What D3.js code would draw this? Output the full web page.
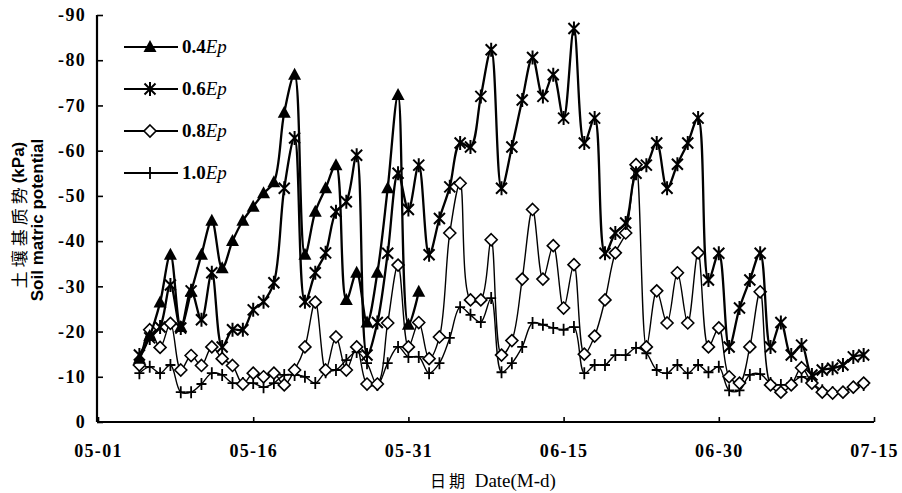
<!DOCTYPE html>
<html>
<head>
<meta charset="utf-8">
<script src="https://cdn.jsdelivr.net/npm/d3@7"></script>
<style>
  body { margin: 0; background: #fff; }
  svg { display: block; }
</style>
</head>
<body>
<div id="chart"></div>
<script>
// daily readings, 05-05 .. 07-14 (null = not measured)
const startDay = '05-05';
const dayCount = 71;

const ep04 = [-14, -19, -26.4, -37, -21, -28.8, -37, -44.5, -34, -40,
  -44.5, -47.6, -50.6, -53, -68.4, -76.8, -37, -46.5, -51.7, -56.8,
  -27, -33, -22, -33, -51.7, -72.3, -21.5, -28.8];

const ep06 = [-14.8, -18.6, -21, -30.3, -20.8, -29, -22.6, -33, -16.6, -20.4,
  -20.4, -24.8, -26.6, -30.8, -51.7, -62.8, -26.6, -33, -37.4, -46.5,
  -48.7, -59, -14.8, -22, -37.3, -55, -47, -56.8, -37, -45,
  -52, -61.7, -60.8, -72, -82.3, -51.7, -60.8, -71.2, -80.6, -72,
  -76.8, -67.2, -87, -61.7, -67.2, -37.3, -41.8, -44, -55, -56.8,
  -61.7, -51.7, -57, -61.7, -67.2, -31.4, -37.3, -16.6, -25.2, -31.4,
  -37.3, -16.6, -22, -14.8, -17, -10.4, -11.5, -11.9, -12.6, -14.4,
  -14.8];

const ep08 = [-12.6, -20.4, -16.5, -21.8, -11.5, -14.7, -12.5, -16.6, -14, -12.5,
  -8.4, -10.8, -10, -10.8, -8.2, -11.5, -16.6, -26.5, -11.5, -18.8,
  -11.5, -16.6, -8.4, -8.4, -21.9, -34.7, -16.6, -22, -14, -18.8,
  -41.8, -52.8, -27, -27, -40.3, -14.8, -18, -31.6, -47, -31.6,
  -39, -25.2, -34.8, -15, -19, -27, -37.4, -41.8, -56.9, -16.6,
  -29, -21.9, -33, -21.9, -37.4, -16.6, -20.8, -10, -8.6, -16.6,
  -28.8, -8.2, -6.6, -8.2, -12, -8.6, -6.6, -6.4, -6.6, -7.7,
  -8.6];

const ep10 = [-10.8, -12.2, -10.8, -12.6, -6.6, -6.6, -8.4, -10.8, -10.4, -8.6,
  -8.6, -8.6, -7.7, -8.6, -10.4, -10.4, -10, -8.6, -11, -11.5,
  -13.7, -15.5, -13, -8.2, -13, -16.6, -14.4, -14.4, -10.8, -13,
  -18.6, -25.4, -23.7, -22.1, -27.4, -11, -13, -16.6, -21.9, -21.5,
  -20.8, -20.4, -21, -10.8, -12.6, -12.6, -14.8, -14.8, -16.4, -15.2,
  -11.5, -10.8, -12.6, -10.8, -12.6, -11, -12.2, -7, -7, -10.4,
  -10.6, -8.6, -8.2, -8.6, -10, -8.6, -7, -6.6, -6.6, -7.7,
  -8.2];

const seriesNames = ['0.4', '0.6', '0.8', '1.0'];
const xTicks = ['05-01', '05-16', '05-31', '06-15', '06-30', '07-15'];
const yTicks = [0, -10, -20, -30, -40, -50, -60, -70, -80, -90];

const width = 902, height = 493;
const toDate = s => { const [m, d] = s.split('-').map(Number); return new Date(Date.UTC(2000, m - 1, d)); };
const days = d3.utcDay.range(toDate(startDay), d3.utcDay.offset(toDate(startDay), dayCount));

const svg = d3.select('#chart').append('svg')
  .attr('width', width).attr('height', height);

const x = d3.scaleUtc()
  .domain([toDate(xTicks[0]), toDate(xTicks[xTicks.length - 1])])
  .range([98, 874]);
const y = d3.scaleLinear().domain([0, -90]).range([422, 15]);

const series = [
  { name: seriesNames[0], values: ep04, mark: 'triangle', lw: 2.3 },
  { name: seriesNames[1], values: ep06, mark: 'star', lw: 2.3 },
  { name: seriesNames[2], values: ep08, mark: 'diamond', lw: 1.4 },
  { name: seriesNames[3], values: ep10, mark: 'plus', lw: 1.4 }
];

function drawMark(g, type) {
  if (type === 'triangle') {
    g.append('path').attr('d', 'M0,-7L6.5,5L-6.5,5Z').attr('fill', '#000');
  } else if (type === 'star') {
    g.append('path').attr('d', 'M-5.5,-5.5L5.5,5.5M-5.5,5.5L5.5,-5.5M0,-7L0,7')
      .attr('stroke', '#000').attr('stroke-width', 2).attr('fill', 'none');
  } else if (type === 'diamond') {
    g.append('path').attr('d', 'M0,-6L6,0L0,6L-6,0Z')
      .attr('fill', '#fff').attr('stroke', '#000').attr('stroke-width', 1.6);
  } else {
    g.append('path').attr('d', 'M-5,0L5,0M0,-6L0,6')
      .attr('stroke', '#000').attr('stroke-width', 1.8).attr('fill', 'none');
  }
}

const line = d3.line()
  .defined(d => d.v != null)
  .x(d => x(d.date))
  .y(d => y(d.v))
  .curve(d3.curveCatmullRom.alpha(0.5));

// draw in reverse so the thick series sit on top
series.slice().reverse().forEach(s => {
  const pts = s.values.map((v, i) => ({ date: days[i], v }));
  svg.append('path').datum(pts)
    .attr('d', line)
    .attr('fill', 'none').attr('stroke', '#000')
    .attr('stroke-width', s.lw).attr('stroke-linejoin', 'round');
  svg.append('g').selectAll('g')
    .data(pts.filter(d => d.v != null))
    .enter().append('g')
    .attr('transform', d => `translate(${x(d.date)},${y(d.v)})`)
    .each(function () { drawMark(d3.select(this), s.mark); });
});

// axes
const xAxis = d3.axisBottom(x)
  .tickValues(xTicks.map(toDate))
  .tickFormat(d3.utcFormat('%m-%d'))
  .tickSize(-5).tickSizeOuter(0).tickPadding(22);
const yAxis = d3.axisLeft(y)
  .tickValues(yTicks)
  .tickFormat(d => String(d))
  .tickSize(-6).tickSizeOuter(0).tickPadding(11);

const gx = svg.append('g').attr('transform', 'translate(0,422)').call(xAxis);
const gy = svg.append('g').attr('transform', 'translate(97,0)').call(yAxis);
[gx, gy].forEach(g => {
  g.select('.domain').attr('stroke-width', 2.2);
  g.selectAll('.tick line').attr('stroke-width', 1.6);
  g.selectAll('text')
    .style('font-family', '"Liberation Serif", serif')
    .style('font-weight', 'bold')
    .style('font-size', '18px')
    .style('letter-spacing', '1.3px')
    .attr('fill', '#000');
});
gx.select('.domain').attr('d', 'M97,0H874');
gy.select('.domain').attr('d', 'M0,422V15');

// axis titles
svg.append('text')
  .attr('x', 493).attr('y', 487)
  .attr('text-anchor', 'middle')
  .call(t => {
    t.append('tspan').text('日期 ')
      .style('font-family', '"Noto Sans CJK SC", sans-serif')
      .style('font-size', '16px').style('letter-spacing', '3px');
    t.append('tspan').text('Date(M-d)')
      .style('font-family', '"Liberation Serif", serif').style('font-size', '19px');
  });

svg.append('text')
  .attr('transform', 'translate(18,215) rotate(-90)')
  .attr('text-anchor', 'middle').attr('dominant-baseline', 'central')
  .call(t => {
    t.append('tspan').text('土壤基质势')
      .style('font-family', '"Noto Sans CJK SC", sans-serif')
      .style('font-size', '17px').style('letter-spacing', '4px');
    t.append('tspan').text('(kPa)')
      .style('font-family', '"Liberation Sans", sans-serif')
      .style('font-size', '17px').style('font-weight', 'bold');
  });

svg.append('text')
  .attr('transform', 'translate(37,220) rotate(-90)')
  .attr('text-anchor', 'middle').attr('dominant-baseline', 'central')
  .style('font-family', '"Liberation Sans", sans-serif')
  .style('font-size', '17px').style('font-weight', 'bold')
  .text('Soil matric potential');

// legend
const legend = svg.append('g').attr('transform', 'translate(124,47)');
series.forEach((s, i) => {
  const row = legend.append('g').attr('transform', `translate(0,${i * 42})`);
  row.append('line').attr('x1', 0).attr('x2', 54).attr('y1', 0).attr('y2', 0)
    .attr('stroke', '#000').attr('stroke-width', 2.2);
  drawMark(row.append('g').attr('transform', 'translate(26,0)'), s.mark);
  row.append('text').attr('x', 58).attr('y', 6)
    .style('font-family', '"Liberation Serif", serif').style('font-size', '19px')
    .call(t => {
      t.append('tspan').text(s.name).style('font-weight', 'bold');
      t.append('tspan').text('Ep').style('font-style', 'italic');
    });
});
</script>
</body>
</html>
